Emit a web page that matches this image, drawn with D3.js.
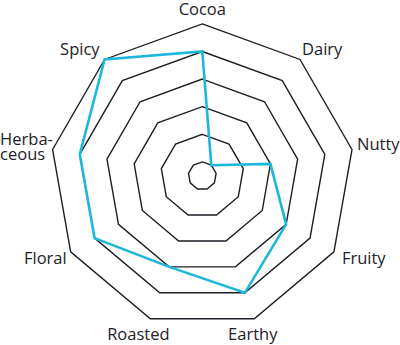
<!DOCTYPE html>
<html>
<head>
<meta charset="utf-8">
<script src="https://cdn.jsdelivr.net/npm/d3@7"></script>
<style>
  body { margin: 0; background: #fff; }
  text { font-family: "Open Sans", sans-serif; font-size: 16.5px; fill: #1e2126; }
</style>
</head>
<body>
<div id="chart"></div>
<script>
// flavour axes, clockwise from the top
var flavours = ["Cocoa", "Dairy", "Nutty", "Fruity", "Earthy", "Roasted", "Floral", "Herba-|ceous", "Spicy"];
var scores = [4, 0, 2, 3, 4, 3, 4, 4, 5];
var levels = [0, 1, 2, 3, 4, 5];

// label placement relative to the outer vertex: anchor, dx, dy (baseline)
var labelPos = [
  ["middle", 0, -9],
  ["start", 2, -4.5],
  ["start", 5, 0.5],
  ["start", 8, 12],
  ["middle", -1.5, 21],
  ["middle", -12, 21],
  ["end", -4, 12],
  ["start", -52.5, -5],
  ["end", -5, -4.5]
];

var width = 400, height = 345;
var cx = 202.3, cy = 175.9;

var svg = d3.select("#chart")
  .append("svg")
    .attr("width", width)
    .attr("height", height)
  .append("g")
    .attr("transform", "translate(" + cx + "," + cy + ")");

var r = d3.scaleLinear().domain([0, 5]).range([14, 152]);
var angle = d3.scalePoint()
  .domain(d3.range(flavours.length))
  .range([0, 2 * Math.PI * (flavours.length - 1) / flavours.length]);

var radial = d3.lineRadial()
  .angle(function(d, i) { return angle(i); })
  .curve(d3.curveLinearClosed);

// grid rings
svg.selectAll(".ring")
  .data(levels)
  .enter().append("path")
    .attr("class", "ring")
    .attr("d", function(l) {
      return radial.radius(function() { return r(l); })(flavours);
    })
    .attr("fill", "none")
    .attr("stroke", "#1b1e24")
    .attr("stroke-width", 1.4);

// score line
svg.append("path")
  .attr("d", radial.radius(function(d) { return r(d); })(scores))
  .attr("fill", "none")
  .attr("stroke", "#1cb8dc")
  .attr("stroke-width", 2.6)
  .attr("stroke-linejoin", "miter");

// labels
function vertex(i) {
  var a = angle(i);
  return [r(5) * Math.sin(a), -r(5) * Math.cos(a)];
}

svg.selectAll(".label")
  .data(flavours)
  .enter().append("text")
    .attr("class", "label")
    .each(function(f, i) {
      var p = vertex(i), lp = labelPos[i];
      var t = d3.select(this).attr("text-anchor", lp[0]);
      f.split("|").forEach(function(line, k) {
        t.append("tspan")
          .attr("x", p[0] + lp[1])
          .attr("y", p[1] + lp[2] + k * 15)
          .text(line);
      });
    });
</script>
</body>
</html>
